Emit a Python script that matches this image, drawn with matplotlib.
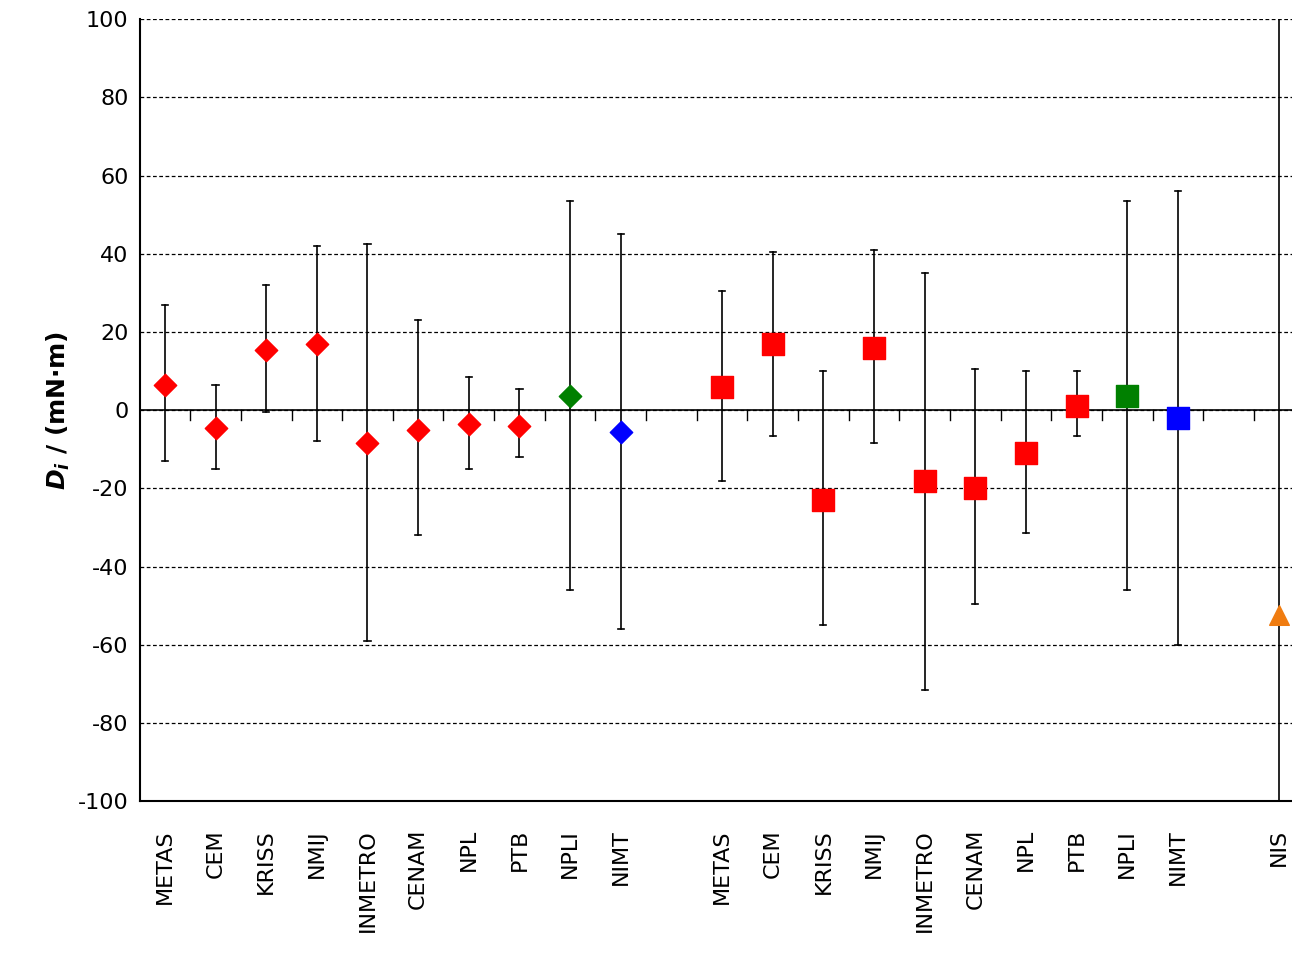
import numpy as np
import matplotlib.pyplot as plt

plt.rcParams['axes.unicode_minus'] = False

labels = ["METAS", "CEM", "KRISS", "NMIJ", "INMETRO", "CENAM", "NPL", "PTB", "NPLI", "NIMT", "",
          "METAS", "CEM", "KRISS", "NMIJ", "INMETRO", "CENAM", "NPL", "PTB", "NPLI", "NIMT", "", "NIS"]

# group 1 (diamonds)
d_val = [6.5, -4.5, 15.5, 17, -8.5, -5, -3.5, -4, 3.5, -5.5]
d_hi = [27, 6.5, 32, 42, 42.5, 23, 8.5, 5.5, 53.5, 45]
d_lo = [-13, -15, -0.5, -8, -59, -32, -15, -12, -46, -56]
d_col = ["red"] * 8 + ["green", "blue"]

# group 2 (squares)
s_val = [6, 17, -23, 16, -18, -20, -11, 1, 3.5, -2]
s_hi = [30.5, 40.5, 10, 41, 35, 10.5, 10, 10, 53.5, 56]
s_lo = [-18, -6.5, -55, -8.5, -71.5, -49.5, -31.5, -6.5, -46, -60]
s_col = ["red"] * 8 + ["green", "blue"]

nis_val = -52.5
nis_hi, nis_lo = 150, -150

fig, ax = plt.subplots(figsize=(12.92, 9.55), dpi=100)
fig.subplots_adjust(left=0.108, right=1.0, top=0.98, bottom=0.161)

for i in range(10):
    ax.plot([i, i], [d_lo[i], d_hi[i]], color="black", lw=1.2, zorder=2)
    ax.plot([i - 0.06, i + 0.06], [d_hi[i]] * 2, color="black", lw=1.2)
    ax.plot([i - 0.06, i + 0.06], [d_lo[i]] * 2, color="black", lw=1.2)
    ax.scatter(i, d_val[i], marker="D", s=130, color=d_col[i], zorder=3)
for k in range(10):
    i = k + 11
    ax.plot([i, i], [s_lo[k], s_hi[k]], color="black", lw=1.2, zorder=2)
    ax.plot([i - 0.06, i + 0.06], [s_hi[k]] * 2, color="black", lw=1.2)
    ax.plot([i - 0.06, i + 0.06], [s_lo[k]] * 2, color="black", lw=1.2)
    ax.scatter(i, s_val[k], marker="s", s=230, color=s_col[k], zorder=3)
ax.plot([22, 22], [nis_lo, nis_hi], color="black", lw=1.2, zorder=2)
ax.scatter(22, nis_val, marker="^", s=200, color="#f07c10", zorder=3, clip_on=False)

ax.axhline(0, color="black", lw=1.2, zorder=1)
for b in np.arange(0.5, 22, 1):
    ax.plot([b, b], [0, -2.5], color="black", lw=1)

ax.set_xlim(-0.5, 22.25)
ax.set_ylim(-100, 100)
ax.set_yticks(range(-100, 101, 20))
ax.yaxis.grid(True, linestyle=(0, (3, 2)), color="black", lw=0.9)
ax.set_xticks(range(len(labels)))
ax.set_xticklabels(labels, rotation=90, fontsize=16)
ax.tick_params(axis="x", length=0, pad=20)
ax.tick_params(axis="y", labelsize=16, length=0, pad=8)
for s in ["top", "right"]:
    ax.spines[s].set_visible(False)
ax.spines["bottom"].set_linewidth(1.5)
ax.spines["left"].set_linewidth(1.5)
ax.set_ylabel(r"$\mathbfit{D_i}$ / (mN·m)", fontsize=18, fontweight="bold")
fig.savefig("out.png")
